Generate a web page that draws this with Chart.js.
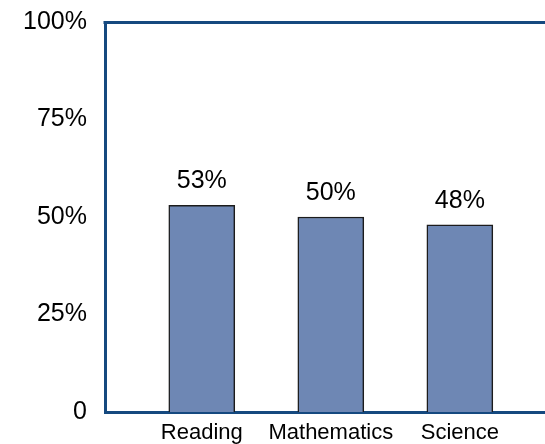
<!DOCTYPE html>
<html>
<head>
<meta charset="utf-8">
<script src="https://cdn.jsdelivr.net/npm/chart.js@4/dist/chart.umd.min.js"></script>
<style>
  html, body { margin: 0; padding: 0; background: #ffffff; overflow: hidden; }
  #wrap { width: 545px; height: 444px; position: relative; }
</style>
</head>
<body>
<div id="wrap"><canvas id="c" width="545" height="444"></canvas></div>
<script>
// ---- data ----
const categories = ['Reading', 'Mathematics', 'Science'];
const values = [53, 50, 48];
const yTickValues = [0, 25, 50, 75, 100];
const yTickLabels = ['0', '25%', '50%', '75%', '100%'];

const positions = categories.map((c, i) => i + 1);
const points = values.map((v, i) => ({ x: positions[i], y: v }));

const frameColor = '#15497f';

const extras = {
  id: 'extras',
  beforeDatasetsDraw(chart) {
    const ctx = chart.ctx;
    const a = chart.chartArea;
    ctx.save();
    ctx.strokeStyle = frameColor;
    ctx.lineWidth = 3;
    ctx.beginPath();
    ctx.moveTo(a.left - 1.5, a.top + 0.5);
    ctx.lineTo(a.right, a.top + 0.5);
    ctx.stroke();
    ctx.restore();
  },
  afterDatasetsDraw(chart) {
    const ctx = chart.ctx;
    const meta = chart.getDatasetMeta(0);
    ctx.save();
    ctx.font = '25px "Liberation Sans", Arial, sans-serif';
    ctx.fillStyle = '#000000';
    ctx.textAlign = 'center';
    ctx.textBaseline = 'alphabetic';
    meta.data.forEach((bar, i) => {
      ctx.fillText(values[i] + '%', bar.x, bar.y - 17);
    });
    ctx.restore();
  }
};

new Chart(document.getElementById('c'), {
  type: 'bar',
  data: {
    datasets: [{
      data: points,
      backgroundColor: '#6e87b4',
      borderColor: '#1c1c1c',
      borderWidth: 1.5,
      barThickness: 66
    }]
  },
  options: {
    responsive: false,
    animation: false,
    events: [],
    layout: { padding: { top: 22, right: 0, left: 0, bottom: 0 } },
    plugins: { legend: { display: false }, tooltip: { enabled: false } },
    scales: {
      x: {
        type: 'linear',
        position: 'bottom',
        offset: false,
        min: 0.25,
        max: 3.66,
        afterBuildTicks(axis) { axis.ticks = positions.map(p => ({ value: p })); },
        afterFit(axis) { axis.height = 32; axis.paddingLeft = 0; axis.paddingRight = 0; },
        grid: { display: false, drawTicks: false },
        border: { display: true, color: frameColor, width: 3 },
        ticks: {
          padding: 8,
          color: '#000000',
          font: { family: '"Liberation Sans", Arial, sans-serif', size: 22 },
          callback: (v) => categories[positions.indexOf(v)] || '',
          maxRotation: 0,
          autoSkip: false
        }
      },
      y: {
        min: 0,
        max: 100,
        afterBuildTicks(axis) { axis.ticks = yTickValues.map(v => ({ value: v })); },
        afterFit(axis) { axis.width = 105; axis.paddingTop = 0; axis.paddingBottom = 0; },
        grid: { display: false, drawTicks: false },
        border: { display: true, color: frameColor, width: 3 },
        ticks: {
          padding: 18,
          color: '#000000',
          font: { family: '"Liberation Sans", Arial, sans-serif', size: 25 },
          callback: (v) => yTickLabels[yTickValues.indexOf(v)]
        }
      }
    }
  },
  plugins: [extras]
});
</script>
</body>
</html>
